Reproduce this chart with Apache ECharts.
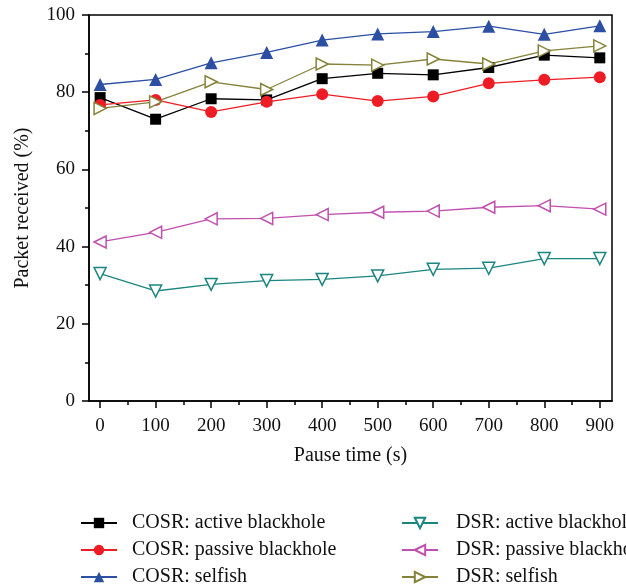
<!DOCTYPE html>
<html>
<head>
<meta charset="utf-8">
<script src="https://cdn.jsdelivr.net/npm/echarts@6/dist/echarts.min.js"></script>
<style>
  html, body { margin: 0; padding: 0; background: #fff; }
  #chart { width: 626px; height: 588px; }
</style>
</head>
<body>
<div id="chart"></div>
<script>
// pause time (s)
var pauseTimes = [0, 100, 200, 300, 400, 500, 600, 700, 800, 900];
// packet received (%)
var cosrActive  = [78.6, 73.0, 78.3, 78.0, 83.5, 84.9, 84.5, 86.4, 89.6, 88.9];
var cosrPassive = [76.7, 78.0, 74.9, 77.5, 79.5, 77.7, 78.9, 82.3, 83.2, 83.9];
var cosrSelfish = [82.0, 83.3, 87.6, 90.3, 93.5, 95.1, 95.7, 97.1, 95.0, 97.2];
var dsrActive   = [33.0, 28.5, 30.2, 31.2, 31.5, 32.4, 34.1, 34.4, 36.9, 36.9];
var dsrPassive  = [41.2, 43.7, 47.2, 47.3, 48.3, 48.9, 49.2, 50.2, 50.6, 49.7];
var dsrSelfish  = [75.8, 77.5, 82.7, 80.7, 87.3, 87.0, 88.6, 87.3, 90.7, 92.0];

var xMajor = [0, 100, 200, 300, 400, 500, 600, 700, 800, 900];
var xMinor = [50, 150, 250, 350, 450, 550, 650, 750, 850];

var fontFamily = '"Liberation Serif", "DejaVu Serif", serif';

function pairs(vals) {
  return pauseTimes.map(function (x, i) { return [x, vals[i]]; });
}

function makeSeries(name, vals, color, symbol, rotate, hollow, size) {
  return {
    name: name,
    type: 'line',
    data: pairs(vals),
    symbol: symbol,
    symbolSize: size,
    symbolRotate: rotate,
    color: color,
    lineStyle: { color: color, width: 1.3 },
    itemStyle: hollow
      ? { color: '#fff', borderColor: color, borderWidth: 1.5 }
      : { color: color, borderWidth: 0 },
    emphasis: { disabled: true },
    animation: false
  };
}

var series = [
  makeSeries('COSR: active blackhole', cosrActive, '#000000', 'rect', 0, false, 11),
  makeSeries('COSR: passive blackhole', cosrPassive, '#ee1d25', 'circle', 0, false, 12),
  makeSeries('COSR: selfish', cosrSelfish, '#2c4ea3', 'triangle', 0, false, 13),
  makeSeries('DSR: active blackhole', dsrActive, '#1b8580', 'triangle', 180, true, 12),
  makeSeries('DSR: passive blackhole', dsrPassive, '#c04fae', 'triangle', 90, true, 12),
  makeSeries('DSR: selfish', dsrSelfish, '#85823a', 'triangle', -90, true, 12)
];

var axisLine = { show: true, onZero: false, lineStyle: { color: '#000', width: 1.5 } };

var legendCommon = {
  orient: 'vertical',
  top: 513,
  padding: 0,
  itemWidth: 36,
  itemHeight: 13,
  itemGap: 7,
  textStyle: { fontFamily: fontFamily, fontSize: 20, color: '#111' },
  selectedMode: false
};

var option = {
  backgroundColor: '#fff',
  animation: false,
  grid: {
    left: 89, right: 14, top: 15, bottom: 187,
    show: true, borderColor: '#000', borderWidth: 1.5
  },
  legend: [
    Object.assign({}, legendCommon, {
      left: 80,
      textStyle: Object.assign({}, legendCommon.textStyle, { padding: [0, 0, 0, 10] }),
      data: ['COSR: active blackhole', 'COSR: passive blackhole', 'COSR: selfish']
    }),
    Object.assign({}, legendCommon, {
      left: 401,
      textStyle: Object.assign({}, legendCommon.textStyle, { padding: [0, 0, 0, 13] }),
      data: ['DSR: active blackhole', 'DSR: passive blackhole', 'DSR: selfish']
    })
  ],
  xAxis: [{
    type: 'value',
    min: -20,
    max: 922,
    name: 'Pause time (s)',
    nameLocation: 'middle',
    nameGap: 45,
    nameTextStyle: { fontFamily: fontFamily, fontSize: 20, color: '#111' },
    axisLine: axisLine,
    axisTick: { show: true, length: 7, customValues: xMajor, lineStyle: { color: '#000', width: 1.5 } },
    axisLabel: { customValues: xMajor, margin: 16, fontFamily: fontFamily, fontSize: 19, color: '#111' },
    splitLine: { show: false }
  }, {
    type: 'value',
    min: -20,
    max: 922,
    position: 'bottom',
    axisLine: { show: false },
    axisTick: { show: true, length: 4, customValues: xMinor, lineStyle: { color: '#000', width: 1.5 } },
    axisLabel: { show: false },
    splitLine: { show: false }
  }],
  yAxis: {
    type: 'value',
    min: 0,
    max: 100,
    interval: 20,
    name: 'Packet received (%)',
    nameLocation: 'middle',
    nameGap: 56,
    nameTextStyle: { fontFamily: fontFamily, fontSize: 20, color: '#111' },
    axisLine: axisLine,
    axisTick: { show: true, length: 7, lineStyle: { color: '#000', width: 1.5 } },
    minorTick: { show: true, splitNumber: 2, length: 4, lineStyle: { color: '#000', width: 1.5 } },
    axisLabel: { margin: 14, fontFamily: fontFamily, fontSize: 19, color: '#111' },
    splitLine: { show: false }
  },
  series: series
};

var myChart = echarts.init(document.getElementById('chart'));
myChart.setOption(option);
</script>
</body>
</html>
